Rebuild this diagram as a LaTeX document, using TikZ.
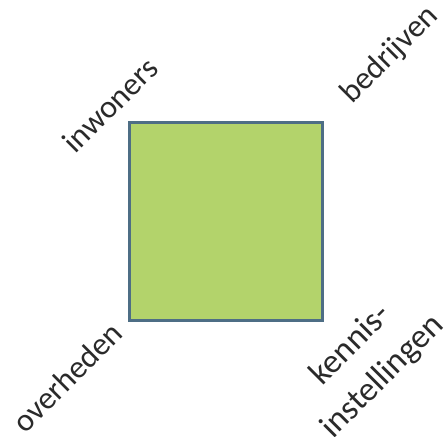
\documentclass[tikz,border=0pt]{standalone}
\usepackage{fontspec}
\setmainfont{Carlito}
\definecolor{boxfill}{HTML}{B3D36B}
\definecolor{boxline}{HTML}{4E6E85}
\definecolor{txt}{HTML}{2A2A2A}
\begin{document}
\begin{tikzpicture}[x=1pt,y=1pt,
  lbl/.style={rotate=45, text=txt, inner sep=0pt, align=center,
    font=\fontsize{32}{44}\selectfont}]
\useasboundingbox (0,0) rectangle (448,437);
\node[draw=boxline, fill=boxfill, line width=3pt, minimum width=193pt, minimum height=198pt, inner sep=0pt] (box) at (225.5,215) {};
\node[lbl] (inw) at (110,332) {inwoners};
\node[lbl] (bed) at (390,382) {bedrijven};
\node[lbl] (ove) at (67,60) {overheden};
\node[lbl, font=\fontsize{34}{45}\selectfont] (ken) at (367,76) {kennis-\\instellingen};
\end{tikzpicture}
\end{document}
